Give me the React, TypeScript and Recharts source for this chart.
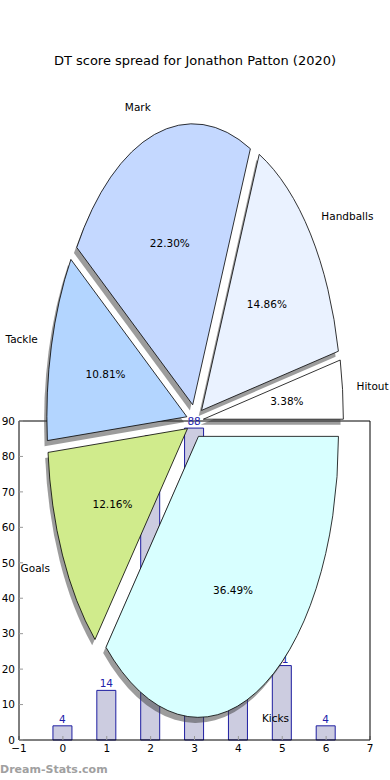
import { BarChart, Bar, XAxis, YAxis, LabelList, PieChart, Pie, Cell } from "recharts";

// bar part: DT score per round bucket
const buckets = [0, 1, 2, 3, 4, 5, 6];
const scores = [4, 14, 83, 88, 46, 21, 4];
const xTicks = [-1, 0, 1, 2, 3, 4, 5, 6, 7];
const yTicks = [0, 10, 20, 30, 40, 50, 60, 70, 80, 90];

// pie part: DT points by stat
const statNames = ["Hitout", "Handballs", "Mark", "Tackle", "Goals", "Kicks"];
const statPoints = [5, 22, 33, 16, 18, 54];

const sliceColors = ["#FFFFFF", "#EAF2FF", "#C4D8FF", "#B3D5FF", "#D0EB8C", "#D8FFFF"];

const FONT = "DejaVu Sans, sans-serif";
const STRETCH = 2.007; // the pie is drawn squashed into an ellipse
const EXPLODE = 0.06;

const barData = buckets.map((b, i) => ({ bucket: b, score: scores[i] }));
const pieData = statNames.map((n, i) => ({ name: n, points: statPoints[i] }));

const rad = (d: number) => (d * Math.PI) / 180;

function wedgeCenter(cx: number, cy: number, r: number, mid: number) {
  return [cx + EXPLODE * r * Math.cos(rad(mid)), cy - EXPLODE * r * STRETCH * Math.sin(rad(mid))];
}

function wedgePath(cx: number, cy: number, r: number, start: number, end: number) {
  const ry = r * STRETCH;
  const x1 = cx + r * Math.cos(rad(start));
  const y1 = cy - ry * Math.sin(rad(start));
  const x2 = cx + r * Math.cos(rad(end));
  const y2 = cy - ry * Math.sin(rad(end));
  const large = Math.abs(end - start) > 180 ? 1 : 0;
  return `M${cx},${cy} L${x1},${y1} A${r},${ry} 0 ${large} 0 ${x2},${y2} Z`;
}

function Wedge(props: any) {
  const { cx, cy, outerRadius, startAngle, endAngle, fill } = props;
  const mid = (startAngle + endAngle) / 2;
  const [x, y] = wedgeCenter(cx, cy, outerRadius, mid);
  return <path d={wedgePath(x, y, outerRadius, startAngle, endAngle)} fill={fill} stroke="#000" strokeWidth={0.8} />;
}

function WedgeShadow(props: any) {
  const { cx, cy, outerRadius, startAngle, endAngle } = props;
  const mid = (startAngle + endAngle) / 2;
  const [x, y] = wedgeCenter(cx, cy, outerRadius, mid);
  const d = wedgePath(x - 0.02 * outerRadius, y + 0.02 * outerRadius * STRETCH, outerRadius, startAngle, endAngle);
  return <path d={d} fill="#3a3a3a" fillOpacity={0.5} stroke="none" />;
}

function renderLabel(props: any) {
  const { cx, cy, outerRadius, midAngle, percent, name } = props;
  const [x, y] = wedgeCenter(cx, cy, outerRadius, midAngle);
  const c = Math.cos(rad(midAngle));
  const s = Math.sin(rad(midAngle));
  const lx = x + 1.1 * outerRadius * c;
  const ly = y - 1.1 * outerRadius * STRETCH * s;
  const px = x + 0.6 * outerRadius * c;
  const py = y - 0.6 * outerRadius * STRETCH * s;
  return (
    <g>
      <text x={lx} y={ly} textAnchor={lx > cx ? "start" : "end"} dominantBaseline="central" fontSize={10.5} fontFamily={FONT} fill="#000">
        {name}
      </text>
      <text x={px} y={py} textAnchor="middle" dominantBaseline="central" fontSize={10.5} fontFamily={FONT} fill="#000">
        {(percent * 100).toFixed(2)}%
      </text>
    </g>
  );
}

const tickStyle = { fontSize: 10.5, fill: "#000", fontFamily: FONT };
const fmt = (v: number) => (v < 0 ? `\u2212${-v}` : `${v}`);

export default function App() {
  return (
    <div style={{ position: "absolute", left: 0, top: 0, width: 390, height: 780, background: "#fff", fontFamily: FONT }}>
      <div style={{ position: "absolute", left: 0, top: 0 }}>
        <BarChart width={390} height={780} data={barData} margin={{ top: 420, right: 19, bottom: 20, left: 18 }}>
          <XAxis xAxisId="b" type="number" dataKey="bucket" domain={[-1, 7]} ticks={xTicks} height={20}
            tickSize={-4} tickMargin={9} tick={tickStyle} tickFormatter={fmt} stroke="#000" tickLine={{ stroke: "#999" }} />
          <XAxis xAxisId="t" orientation="top" type="number" dataKey="bucket" domain={[-1, 7]} ticks={xTicks} height={1}
            tickSize={-4} tick={false} stroke="#000" tickLine={{ stroke: "#999" }} />
          <YAxis yAxisId="l" type="number" domain={[0, 90]} ticks={yTicks} width={1}
            tickSize={-4} tickMargin={8} tick={tickStyle} stroke="#000" tickLine={{ stroke: "#999" }} />
          <YAxis yAxisId="r" orientation="right" type="number" domain={[0, 90]} ticks={yTicks} width={1}
            tickSize={-4} tick={false} stroke="#000" tickLine={{ stroke: "#999" }} />
          <Bar xAxisId="b" yAxisId="l" dataKey="score" barSize={19} fill="#CCCCE0" stroke="#1E1EA0" strokeWidth={1} isAnimationActive={false}>
            <LabelList dataKey="score" position="top" offset={3} fill="#2222AA" fontSize={10.5} fontFamily={FONT} />
          </Bar>
        </BarChart>
      </div>
      <div style={{ position: "absolute", left: 0, top: 0, pointerEvents: "none" }}>
        <PieChart width={390} height={780} margin={{ top: 0, right: 0, bottom: 0, left: 0 }}>
          <Pie data={pieData} dataKey="points" nameKey="name" cx={195} cy={421} outerRadius={140} innerRadius={0}
            startAngle={0} endAngle={360} shape={WedgeShadow} activeShape={WedgeShadow} label={false} labelLine={false}
            isAnimationActive={false} />
          <Pie data={pieData} dataKey="points" nameKey="name" cx={195} cy={421} outerRadius={140} innerRadius={0}
            startAngle={0} endAngle={360} shape={Wedge} activeShape={Wedge} label={renderLabel} labelLine={false}
            isAnimationActive={false}>
            {pieData.map((d, i) => (
              <Cell key={d.name} fill={sliceColors[i]} />
            ))}
          </Pie>
        </PieChart>
      </div>
      <div style={{ position: "absolute", left: 0, width: 390, top: 51, textAlign: "center", fontSize: 13, lineHeight: "20px", color: "#000" }}>
        DT score spread for Jonathon Patton (2020)
      </div>
      <div style={{ position: "absolute", left: 0, top: 762, fontSize: 11, fontWeight: "bold", lineHeight: "16px", color: "#a0a0a0" }}>
        Dream-Stats.com
      </div>
    </div>
  );
}
